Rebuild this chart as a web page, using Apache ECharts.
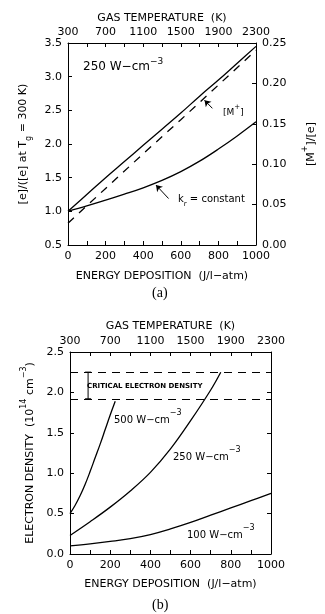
<!DOCTYPE html>
<html>
<head>
<meta charset="utf-8">
<script src="https://cdn.jsdelivr.net/npm/echarts@6/dist/echarts.min.js"></script>
<style>
html, body { margin: 0; padding: 0; background: #fff; }
#app { width: 325px; height: 614px; }
</style>
</head>
<body>
<div id="app"></div>
<script>
// ---- panel (a): 250 W-cm-3 ----
var energyA = [0, 100, 200, 300, 400, 500, 600, 700, 800, 900, 1000];
var ratioTotal = [1.00, 1.25, 1.50, 1.74, 1.98, 2.22, 2.46, 2.71, 2.95, 3.20, 3.45];
var ratioKr = [1.00, 1.08, 1.165, 1.255, 1.35, 1.46, 1.59, 1.745, 1.925, 2.12, 2.33];
var energyM = [0, 200, 400, 600, 800, 1000];
var mPlusRatio = [0.027, 0.070, 0.113, 0.155, 0.198, 0.241];
var arrowM = [[768, 2.53], [726, 2.65]];
var arrowKr = [[535, 1.19], [468, 1.39]];

// ---- panel (b): electron density ----
var energy500 = [0, 25, 50, 75, 100, 125, 150, 175, 200, 225];
var dens500 = [0.50, 0.60, 0.72, 0.86, 1.02, 1.19, 1.36, 1.54, 1.72, 1.89];
var energy250 = [0, 100, 200, 300, 400, 500, 600, 700, 750];
var dens250 = [0.23, 0.40, 0.58, 0.78, 1.01, 1.30, 1.65, 2.03, 2.25];
var energy100 = [0, 100, 200, 300, 400, 500, 600, 700, 800, 900, 1000];
var dens100 = [0.10, 0.125, 0.155, 0.19, 0.24, 0.31, 0.39, 0.48, 0.57, 0.66, 0.75];
var criticalDensity = [2.25, 1.92];
var criticalBarE = 90;

// ---- axes ----
var energyRange = [0, 1000, 200];
var tempRange = [300, 2300, 400];
var ratioRange = [0.5, 3.5, 0.5];
var mRange = [0, 0.25, 0.05];
var densRange = [0, 2.5, 0.5];

function pairs(xs, ys) {
  var out = [];
  for (var i = 0; i < xs.length; i++) out.push([xs[i], ys[i]]);
  return out;
}

var FONT = 'DejaVu Sans';
var sup = {
  a: { fontFamily: FONT, fontSize: 11, lineHeight: 16, verticalAlign: 'bottom', color: '#000' },
  s: { fontFamily: FONT, fontSize: 8, lineHeight: 16, verticalAlign: 'top', color: '#000' }
};
var sub = {
  a: { fontFamily: FONT, fontSize: 11, lineHeight: 15, verticalAlign: 'top', color: '#000' },
  b: { fontFamily: FONT, fontSize: 8, lineHeight: 15, verticalAlign: 'bottom', color: '#000' }
};

var black = '#000';
var lineAxis = { show: true, onZero: false, lineStyle: { color: black, width: 1 } };
var tickIn = { show: true, inside: true, length: 4, lineStyle: { color: black } };
var minorIn = { show: true, splitNumber: 2, length: 4, lineStyle: { color: black } };
var lbl = { color: black, fontFamily: FONT, fontSize: 11 };
var nameStyle = { color: black, fontFamily: FONT, fontSize: 11 };
var plain = function (v) { return String(v); };

function xBottom(grid, gap) {
  return {
    gridIndex: grid, type: 'value', position: 'bottom',
    min: energyRange[0], max: energyRange[1], interval: energyRange[2],
    axisLine: lineAxis, axisTick: tickIn, minorTick: minorIn,
    splitLine: { show: false },
    axisLabel: Object.assign({ margin: 6, formatter: plain }, lbl),
    name: 'ENERGY DEPOSITION  (J/l\u2212atm)', nameLocation: 'middle', nameGap: gap,
    nameTextStyle: nameStyle
  };
}
function xTop(grid, gap) {
  return {
    gridIndex: grid, type: 'value', position: 'top',
    min: tempRange[0], max: tempRange[1], interval: tempRange[2],
    axisLine: lineAxis, axisTick: tickIn, minorTick: minorIn,
    splitLine: { show: false },
    axisLabel: Object.assign({ margin: 5, formatter: plain }, lbl),
    name: 'GAS TEMPERATURE  (K)', nameLocation: 'middle', nameGap: gap,
    nameTextStyle: nameStyle
  };
}

var myChart = echarts.init(document.getElementById('app'));

var curve = { color: black, width: 1.3 };

var option = {
  backgroundColor: '#fff',
  animation: false,
  grid: [
    { left: 68, top: 43, width: 200, height: 202 },
    { left: 70, top: 352, width: 201, height: 202 }
  ],
  xAxis: [xBottom(0, 26), xTop(0, 19), xBottom(1, 25), xTop(1, 20)],
  yAxis: [
    {
      gridIndex: 0, type: 'value', position: 'left',
      min: ratioRange[0], max: ratioRange[1], interval: ratioRange[2],
      axisLine: lineAxis, axisTick: tickIn, splitLine: { show: false },
      axisLabel: Object.assign({ margin: 6, formatter: function (v) { return v.toFixed(1); } }, lbl),
      name: '{a|[e]/([e] at T}{b|g}{a| = 300 K)}', nameLocation: 'middle', nameGap: 35, nameRotate: 90,
      nameTextStyle: { rich: sub }
    },
    {
      gridIndex: 0, type: 'value', position: 'right',
      min: mRange[0], max: mRange[1], interval: mRange[2],
      axisLine: lineAxis, axisTick: tickIn, splitLine: { show: false },
      axisLabel: Object.assign({ margin: 6, formatter: function (v) { return v.toFixed(2); } }, lbl),
      name: '{a|[M}{s|+}{a|]/[e]}', nameLocation: 'middle', nameGap: 45, nameRotate: 90,
      nameTextStyle: { rich: sup }
    },
    {
      gridIndex: 1, type: 'value', position: 'left',
      min: densRange[0], max: densRange[1], interval: densRange[2],
      axisLine: lineAxis, axisTick: tickIn, splitLine: { show: false },
      axisLabel: Object.assign({ margin: 6, formatter: function (v) { return v.toFixed(1); } }, lbl),
      name: '{a|ELECTRON DENSITY  (10}{s|14}{a| cm}{s|\u22123}{a|)}', nameLocation: 'middle', nameGap: 31, nameRotate: 90,
      nameTextStyle: { rich: sup }
    },
    {
      gridIndex: 1, type: 'value', position: 'right',
      min: densRange[0], max: densRange[1], interval: densRange[2],
      axisLine: lineAxis, axisTick: tickIn, splitLine: { show: false },
      axisLabel: { show: false }
    }
  ],
  series: [
    {
      name: 'total', type: 'line', xAxisIndex: 0, yAxisIndex: 0,
      data: pairs(energyA, ratioTotal), showSymbol: false, smooth: 0.4,
      lineStyle: curve
    },
    {
      name: 'kr constant', type: 'line', xAxisIndex: 0, yAxisIndex: 0,
      data: pairs(energyA, ratioKr), showSymbol: false, smooth: 0.4,
      lineStyle: curve,
      markLine: {
        silent: true, symbol: ['none', 'arrow'], symbolSize: 6,
        label: { show: false },
        lineStyle: { color: black, width: 1, type: 'solid' },
        data: [
          [{ coord: arrowM[0] }, { coord: arrowM[1] }],
          [{ coord: arrowKr[0] }, { coord: arrowKr[1] }]
        ]
      }
    },
    {
      name: 'M+', type: 'line', xAxisIndex: 0, yAxisIndex: 1,
      data: pairs(energyM, mPlusRatio), showSymbol: false,
      lineStyle: { color: black, width: 1.3, type: [8, 7] }
    },
    {
      name: '500', type: 'line', xAxisIndex: 2, yAxisIndex: 2,
      data: pairs(energy500, dens500), showSymbol: false, smooth: 0.4,
      lineStyle: curve
    },
    {
      name: '250', type: 'line', xAxisIndex: 2, yAxisIndex: 2,
      data: pairs(energy250, dens250), showSymbol: false, smooth: 0.4,
      lineStyle: curve
    },
    {
      name: '100', type: 'line', xAxisIndex: 2, yAxisIndex: 2,
      data: pairs(energy100, dens100), showSymbol: false, smooth: 0.4,
      lineStyle: curve,
      markLine: {
        silent: true, symbol: ['none', 'none'],
        label: { show: false },
        lineStyle: { color: black, width: 1.2, type: [8, 6] },
        data: criticalDensity.map(function (v) { return { yAxis: v }; })
      }
    },
    {
      name: 'critical bar', type: 'line', xAxisIndex: 2, yAxisIndex: 2,
      data: criticalDensity.map(function (v) { return [criticalBarE, v]; }),
      symbol: 'rect', symbolSize: [6, 1.2], itemStyle: { color: black },
      lineStyle: { color: black, width: 1 }
    }
  ],
  graphic: [
    { type: 'text', left: 83, top: 57, style: { text: '{a|250 W\u2212cm}{s|\u22123}', rich: { a: Object.assign({}, sup.a, { fontSize: 12 }), s: Object.assign({}, sup.s, { fontSize: 9 }) } } },
    { type: 'text', left: 223, top: 104, style: { text: '{a|[M}{s|+}{a|]}', rich: { a: Object.assign({}, sup.a, { fontSize: 9, lineHeight: 13 }), s: Object.assign({}, sup.s, { fontSize: 7, lineHeight: 13 }) } } },
    { type: 'text', left: 178, top: 194, style: { text: '{a|k}{b|r}{a| = constant}', rich: { a: Object.assign({}, sub.a, { fontSize: 10, lineHeight: 14 }), b: Object.assign({}, sub.b, { fontSize: 7, lineHeight: 14 }) } } },
    { type: 'text', left: 152, top: 286, style: { text: '(a)', font: '14px "Liberation Serif"', fill: black } },
    { type: 'text', left: 87, top: 383, style: { text: 'CRITICAL ELECTRON DENSITY', font: 'bold 7px "DejaVu Sans"', fill: black } },
    { type: 'text', left: 114, top: 409, style: { text: '{a|500 W\u2212cm}{s|\u22123}', rich: { a: Object.assign({}, sup.a, { fontSize: 10 }), s: Object.assign({}, sup.s, { fontSize: 8 }) } } },
    { type: 'text', left: 173, top: 446, style: { text: '{a|250 W\u2212cm}{s|\u22123}', rich: { a: Object.assign({}, sup.a, { fontSize: 10 }), s: Object.assign({}, sup.s, { fontSize: 8 }) } } },
    { type: 'text', left: 187, top: 524, style: { text: '{a|100 W\u2212cm}{s|\u22123}', rich: { a: Object.assign({}, sup.a, { fontSize: 10 }), s: Object.assign({}, sup.s, { fontSize: 8 }) } } },
    { type: 'text', left: 152, top: 598, style: { text: '(b)', font: '14px "Liberation Serif"', fill: black } }
  ]
};

myChart.setOption(option);
</script>
</body>
</html>
